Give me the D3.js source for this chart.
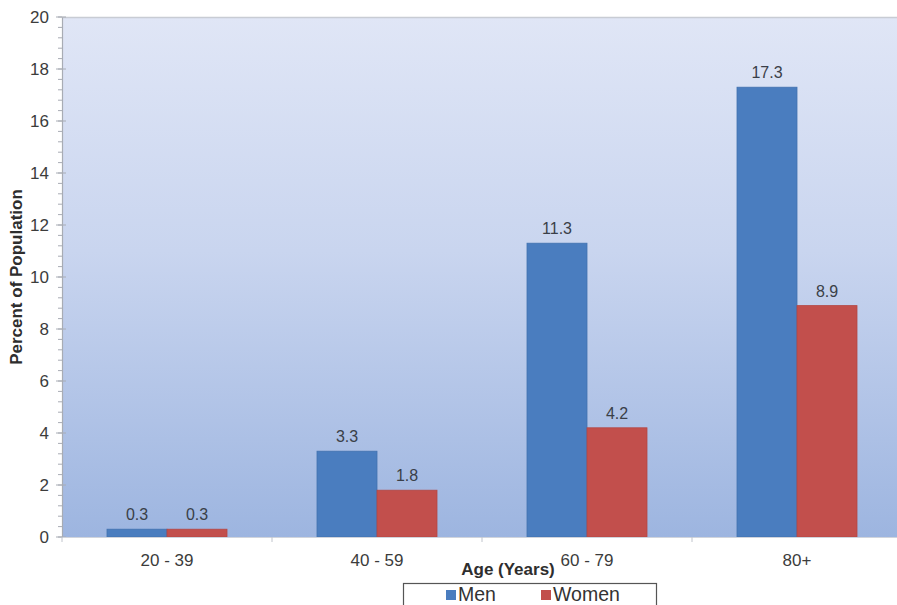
<!DOCTYPE html>
<html><head><meta charset="utf-8">
<script src="https://cdn.jsdelivr.net/npm/d3@7/dist/d3.min.js"></script>
<style>body{margin:0;background:#fff;}svg{display:block;font-family:Arial,"Liberation Sans",sans-serif;}</style>
</head><body><div id="chart"></div>
<script>
const categories = ["20 - 39", "40 - 59", "60 - 79", "80+"];
const seriesNames = ["Men", "Women"];
const menValues = [0.3, 3.3, 11.3, 17.3];
const womenValues = [0.3, 1.8, 4.2, 8.9];
const yTicks = [0, 2, 4, 6, 8, 10, 12, 14, 16, 18, 20];
const colors = ["#4a7dbf", "#c24f4c"];

const W = 897, H = 605;
const m = {left: 62, top: 17, right: 902, bottom: 537};
const svg = d3.select("#chart").append("svg").attr("width", W).attr("height", H);

const defs = svg.append("defs");
const grad = defs.append("linearGradient").attr("id", "bg").attr("x1", 0).attr("x2", 0).attr("y1", 0).attr("y2", 1);
grad.append("stop").attr("offset", "0%").attr("stop-color", "#e0e6f6");
grad.append("stop").attr("offset", "45%").attr("stop-color", "#c9d5ef");
grad.append("stop").attr("offset", "100%").attr("stop-color", "#9db5e0");

const x = d3.scaleBand().domain(categories).range([m.left, m.right]).paddingInner(0).paddingOuter(0);
const y = d3.scaleLinear().domain([0, 20]).range([m.bottom, m.top]);
const bandW = x.bandwidth();
const barW = bandW * 60 / 210;
const xs = d3.scaleBand().domain(seriesNames).range([bandW / 2 - barW, bandW / 2 + barW]);

svg.append("rect").attr("x", m.left).attr("y", m.top).attr("width", m.right - m.left).attr("height", m.bottom - m.top).attr("fill", "url(#bg)");
svg.append("line").attr("x1", m.left).attr("x2", m.right).attr("y1", m.top + 0.5).attr("y2", m.top + 0.5).attr("stroke", "#c8ccd4").attr("stroke-width", 1.5);

const data = categories.map((c, i) => ({cat: c, vals: [{s: "Men", v: menValues[i]}, {s: "Women", v: womenValues[i]}]}));
const g = svg.selectAll("g.cat").data(data).enter().append("g").attr("class", "cat").attr("transform", d => `translate(${x(d.cat)},0)`);
g.selectAll("rect").data(d => d.vals).enter().append("rect")
  .attr("x", d => xs(d.s)).attr("width", xs.bandwidth())
  .attr("y", d => y(d.v)).attr("height", d => y(0) - y(d.v))
  .attr("fill", (d, i) => colors[i]).attr("stroke", (d, i) => i ? "#b44744" : "#4272b0").attr("stroke-width", 0.8);
g.selectAll("text").data(d => d.vals).enter().append("text")
  .attr("x", d => xs(d.s) + xs.bandwidth() / 2).attr("y", d => y(d.v) - 9)
  .attr("text-anchor", "middle").attr("font-size", 16).attr("fill", "#3a3f48").text(d => d.v.toFixed(1));

// Y axis
const yAxis = d3.axisLeft(y).tickValues(yTicks).tickSize(0).tickPadding(13).tickFormat(d3.format("d"));
const yg = svg.append("g").attr("transform", `translate(${m.left},0)`).call(yAxis);
yg.select(".domain").attr("stroke", "#a8acb4").attr("stroke-width", 1.2);
yg.selectAll("text").attr("font-size", 17).attr("fill", "#3c3c3c").attr("font-family", "Arial, 'Liberation Sans', sans-serif");
const minor = d3.range(0, 20.001, 0.4);
yg.selectAll("line.minor").data(minor).enter().append("line").attr("class", "minor")
  .attr("x1", -4).attr("x2", 0).attr("y1", d => y(d)).attr("y2", d => y(d)).attr("stroke", "#a8acb4");
yg.selectAll("line.major").data(yTicks).enter().append("line").attr("class", "major")
  .attr("x1", -6).attr("x2", 4).attr("y1", d => y(d)).attr("y2", d => y(d)).attr("stroke", "#a8acb4");

// X axis
const xAxis = d3.axisBottom(x).tickSize(0).tickPadding(17);
const xg = svg.append("g").attr("transform", `translate(0,${m.bottom})`).call(xAxis);
xg.select(".domain").attr("stroke", "#d0d4dc").attr("stroke-width", 1);
xg.selectAll("text").attr("font-size", 17).attr("fill", "#3c3c3c").attr("font-family", "Arial, 'Liberation Sans', sans-serif");
const bounds = categories.map(c => x(c)).concat([m.right]);
xg.selectAll("line.sep").data(bounds).enter().append("line").attr("class", "sep")
  .attr("x1", d => d).attr("x2", d => d).attr("y1", 0).attr("y2", 5).attr("stroke", "#c0c4cc");

// Titles
svg.append("text").attr("x", 508).attr("y", 575).attr("text-anchor", "middle").attr("font-size", 17).attr("font-weight", "bold").attr("fill", "#2e2e2e").text("Age (Years)");
svg.append("text").attr("transform", `translate(22,${(m.top + m.bottom) / 2}) rotate(-90)`).attr("text-anchor", "middle").attr("font-size", 17).attr("font-weight", "bold").attr("fill", "#2e2e2e").text("Percent of Population");

// Legend
const lg = svg.append("g");
lg.append("rect").attr("x", 403.5).attr("y", 583.5).attr("width", 253).attr("height", 40).attr("fill", "#fff").attr("stroke", "#555").attr("stroke-width", 1.2);
const legItems = [{s: seriesNames[0], x: 446}, {s: seriesNames[1], x: 541}];
legItems.forEach((d, i) => {
  lg.append("rect").attr("x", d.x).attr("y", 590).attr("width", 10).attr("height", 10).attr("fill", colors[i]);
  lg.append("text").attr("x", d.x + 12).attr("y", 601).attr("font-size", 19.5).attr("fill", "#333").text(d.s);
});
</script></body></html>
